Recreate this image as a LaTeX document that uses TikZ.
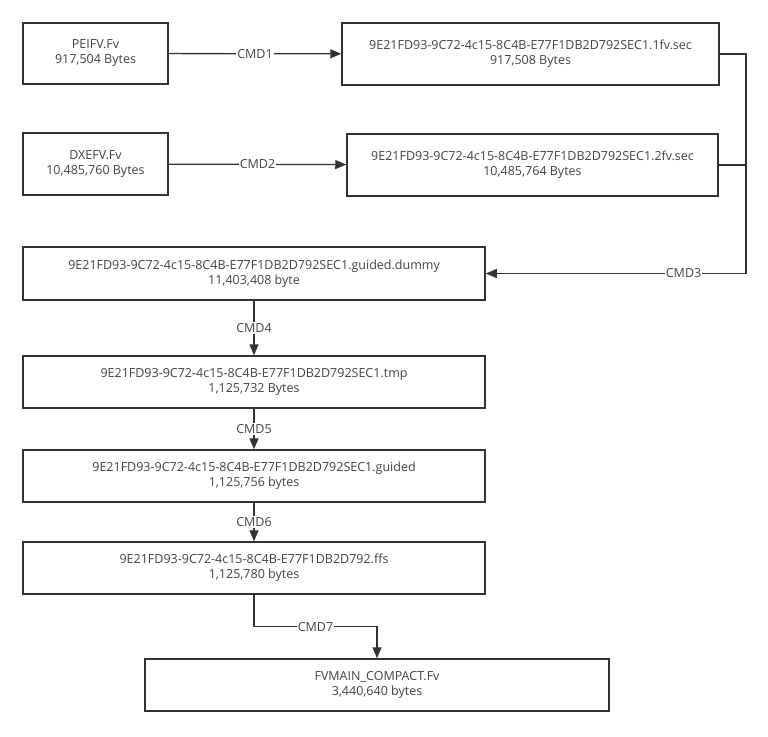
\documentclass[tikz,border=0pt]{standalone}
\usepackage{fontspec}
\setmainfont{Open Sans}
\usetikzlibrary{arrows.meta}
\definecolor{ln}{HTML}{333333}
\definecolor{tx}{HTML}{444444}
\begin{document}
\begin{tikzpicture}[x=1pt,y=-1pt,
  box/.style={draw=ln,line width=1.5pt,fill=white,text=tx,align=center,font=\fontsize{12.5}{15}\selectfont,inner sep=0pt},
  conn/.style={draw=ln,line width=1.3pt,-{Triangle[length=11pt,width=9pt]}},
  lbl/.style={fill=white,text=tx,font=\fontsize{12.5}{14}\selectfont,inner sep=1pt}]
\useasboundingbox (0,0) rectangle (768,736);
\node[box,minimum width=145pt,minimum height=61pt] (a) at (95.5,53.5) {PEIFV.Fv\\917,504 Bytes};
\node[box,minimum width=377pt,minimum height=62pt] (b) at (530.5,54) {9E21FD93-9C72-4c15-8C4B-E77F1DB2D792SEC1.1fv.sec\\917,508 Bytes};
\node[box,minimum width=145pt,minimum height=62pt] (c) at (95.5,164) {DXEFV.Fv\\10,485,760 Bytes};
\node[box,minimum width=371pt,minimum height=62pt] (d) at (532.5,165) {9E21FD93-9C72-4c15-8C4B-E77F1DB2D792SEC1.2fv.sec\\10,485,764 Bytes};
\node[box,minimum width=462pt,minimum height=53pt] (e) at (254,273.5) {9E21FD93-9C72-4c15-8C4B-E77F1DB2D792SEC1.guided.dummy\\11,403,408 byte};
\node[box,minimum width=462pt,minimum height=52pt] (f) at (254,382) {9E21FD93-9C72-4c15-8C4B-E77F1DB2D792SEC1.tmp\\1,125,732 Bytes};
\node[box,minimum width=462pt,minimum height=52pt] (g) at (254,476) {9E21FD93-9C72-4c15-8C4B-E77F1DB2D792SEC1.guided\\1,125,756 bytes};
\node[box,minimum width=462pt,minimum height=52pt] (h) at (254,568) {9E21FD93-9C72-4c15-8C4B-E77F1DB2D792.ffs\\1,125,780 bytes};
\node[box,minimum width=464pt,minimum height=52pt] (i) at (377,685) {FVMAIN\_COMPACT.Fv\\3,440,640 bytes};
\coordinate (r) at (746,273.5);
\draw[conn] (a) -- node[lbl] {CMD1} (b);
\draw[conn] (c) -- node[lbl] {CMD2} (d);
\draw[draw=ln,line width=1.3pt] (b.east) -| (r);
\draw[draw=ln,line width=1.3pt] (d.east) -- (d.east -| r);
\draw[conn] (r) -- node[lbl,pos=0.24] {CMD3} (e.east);
\draw[conn] (e) -- node[lbl] {CMD4} (f);
\draw[conn] (f) -- node[lbl] {CMD5} (g);
\draw[conn] (g) -- node[lbl] {CMD6} (h);
\draw[conn] (h.south) -- ++(0,32) -| node[lbl,pos=0.25] {CMD7} (i.north);
\end{tikzpicture}
\end{document}
